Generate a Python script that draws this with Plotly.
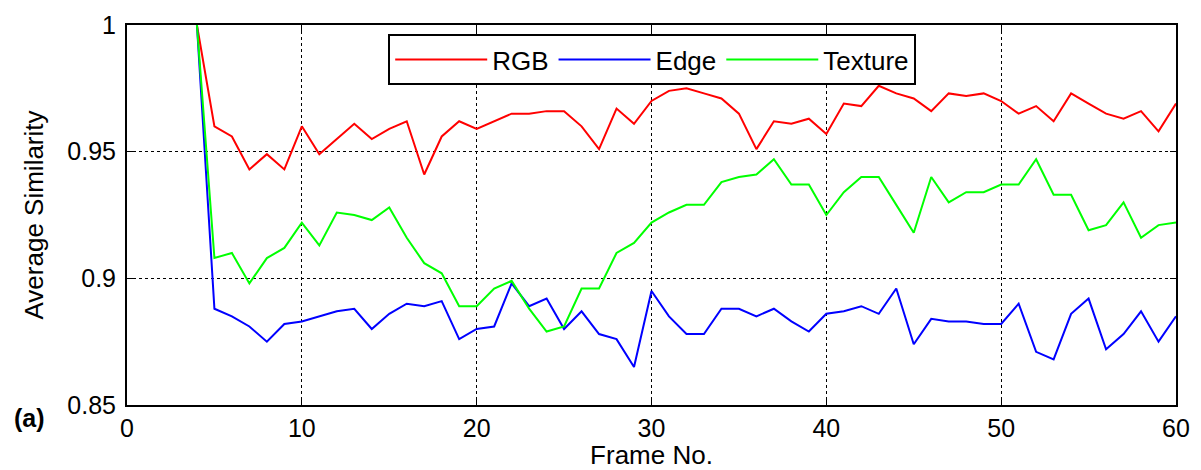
import plotly.graph_objects as go

frames = list(range(4, 61))

rgb = [1.0, 0.960, 0.956, 0.943, 0.949, 0.943, 0.960, 0.949, 0.955, 0.961, 0.955,
       0.959, 0.962, 0.941, 0.956, 0.962, 0.959, 0.962, 0.965, 0.965, 0.966, 0.966,
       0.960, 0.951, 0.967, 0.961, 0.970, 0.974, 0.975, 0.973, 0.971, 0.965, 0.951,
       0.962, 0.961, 0.963, 0.957, 0.969, 0.968, 0.976, 0.973, 0.971, 0.966, 0.973,
       0.972, 0.973, 0.970, 0.965, 0.968, 0.962, 0.973, 0.969, 0.965, 0.963, 0.966,
       0.958, 0.969]

edge = [1.0, 0.888, 0.885, 0.881, 0.875, 0.882, 0.883, 0.885, 0.887, 0.888, 0.880,
        0.886, 0.890, 0.889, 0.891, 0.876, 0.880, 0.881, 0.898, 0.889, 0.892, 0.880,
        0.887, 0.878, 0.876, 0.865, 0.895, 0.885, 0.878, 0.878, 0.888, 0.888, 0.885,
        0.888, 0.883, 0.879, 0.886, 0.887, 0.889, 0.886, 0.896, 0.874, 0.884, 0.883,
        0.883, 0.882, 0.882, 0.890, 0.871, 0.868, 0.886, 0.892, 0.872, 0.878, 0.887,
        0.875, 0.885]

texture = [1.0, 0.908, 0.910, 0.898, 0.908, 0.912, 0.922, 0.913, 0.926, 0.925, 0.923,
           0.928, 0.916, 0.906, 0.902, 0.889, 0.889, 0.896, 0.899, 0.888, 0.879, 0.881,
           0.896, 0.896, 0.910, 0.914, 0.922, 0.926, 0.929, 0.929, 0.938, 0.940, 0.941,
           0.947, 0.937, 0.937, 0.925, 0.934, 0.940, 0.940, 0.929, 0.918, 0.940, 0.930,
           0.934, 0.934, 0.937, 0.937, 0.947, 0.933, 0.933, 0.919, 0.921, 0.930, 0.916,
           0.921, 0.922]

series = [("RGB", rgb, "#ff0000"), ("Edge", edge, "#0000ff"), ("Texture", texture, "#00ff00")]

x_ticks = [0, 10, 20, 30, 40, 50, 60]
y_ticks = [0.85, 0.9, 0.95, 1.0]
y_tick_text = ["0.85", "0.9", "0.95", "1"]

FONT = "Arial, Liberation Sans, sans-serif"

fig = go.Figure()
for name, vals, col in series:
    fig.add_trace(go.Scatter(x=frames, y=vals, mode="lines", name=name,
                             line=dict(color=col, width=2)))

axis_common = dict(
    showline=True, linecolor="black", linewidth=2, mirror="ticks",
    ticks="inside", ticklen=6, tickcolor="black", tickwidth=1,
    showgrid=True, gridcolor="black", griddash="dot", gridwidth=1,
    zeroline=False, automargin=False,
    tickfont=dict(family=FONT, size=25, color="black"),
)

fig.update_xaxes(range=[0, 60], tickvals=x_ticks, ticklabelstandoff=0,
                 title=dict(text="Frame No.", font=dict(family=FONT, size=26, color="black"), standoff=4),
                 **axis_common)
fig.update_yaxes(range=[0.85, 1.0], tickvals=y_ticks, ticktext=y_tick_text, ticklabelstandoff=4,
                 title=dict(text="Average Similarity", font=dict(family=FONT, size=26, color="black"), standoff=16),
                 **axis_common)

fig.add_annotation(text="<b>(a)</b>", xref="paper", yref="paper", x=-0.11, y=0.008,
                   xanchor="left", yanchor="top", showarrow=False,
                   font=dict(family=FONT, size=25, color="black"))

fig.update_layout(
    width=1201, height=470,
    margin=dict(l=127, r=25, t=25, b=65),
    plot_bgcolor="white", paper_bgcolor="white",
    legend=dict(orientation="h", x=0.249, y=0.976, xanchor="left", yanchor="top",
                bordercolor="black", borderwidth=2, bgcolor="white",
                font=dict(family=FONT, size=26, color="black"),
                itemwidth=92),
)

fig.write_html("out.html", config={"displayModeBar": False},
               post_script="document.body.style.margin='0';")
